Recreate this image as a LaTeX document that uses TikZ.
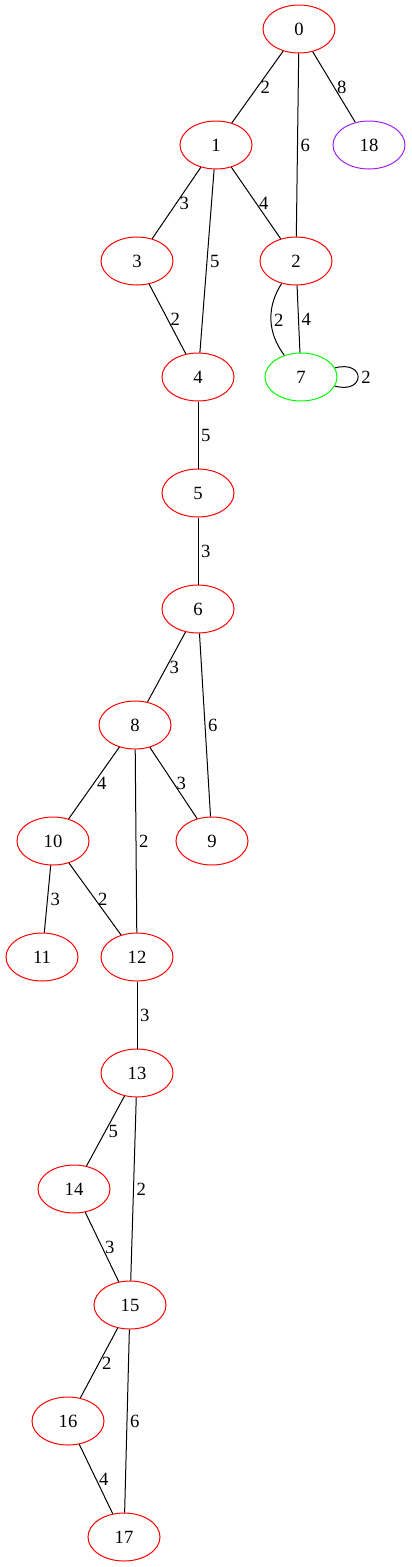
\documentclass[tikz,border=0pt]{standalone}
\usepackage{fontspec}
\setmainfont{Liberation Serif}
\usepackage{tikz}
\usetikzlibrary{shapes.geometric}
\usepackage{xcolor}
\definecolor{gvpurple}{RGB}{160,32,240}
\definecolor{gvgreen}{RGB}{0,255,0}

\begin{document}
\begin{tikzpicture}[x=0.75pt,y=-0.75pt,line width=0.75pt,
  vertex/.style={ellipse,draw=red,minimum width=54pt,minimum height=36pt,inner sep=0pt,font=\fontsize{14}{16}\selectfont},
  wt/.style={right,inner sep=2pt,font=\fontsize{14}{16}\selectfont}]
\useasboundingbox (0,0) rectangle (411,1567);

% Nodes (pixel positions, y grows downwards)
\node[vertex] (n0) at (299,29) {0};
\node[vertex] (n1) at (216,145) {1};
\node[vertex,draw=gvpurple] (n18) at (369,145) {18};
\node[vertex] (n3) at (137,261) {3};
\node[vertex] (n2) at (296,261) {2};
\node[vertex] (n4) at (198,377) {4};
\node[vertex,draw=gvgreen] (n7) at (301,377) {7};
\node[vertex] (n5) at (198,493) {5};
\node[vertex] (n6) at (198,609) {6};
\node[vertex] (n8) at (135,725) {8};
\node[vertex] (n10) at (53,841) {10};
\node[vertex] (n9) at (212,841) {9};
\node[vertex] (n11) at (42,957) {11};
\node[vertex] (n12) at (137,957) {12};
\node[vertex] (n13) at (137,1073) {13};
\node[vertex] (n14) at (74,1189) {14};
\node[vertex] (n15) at (130,1305) {15};
\node[vertex] (n16) at (68,1421) {16};
\node[vertex] (n17) at (124,1537) {17};

% Weighted edges
\foreach \a/\b/\w in {0/1/2, 0/2/6, 0/18/8, 1/3/3, 1/4/5, 1/2/4, 3/4/2, 2/7/4,
    4/5/5, 5/6/3, 6/8/3, 6/9/6, 8/10/4, 8/12/2, 8/9/3, 10/11/3, 10/12/2,
    12/13/3, 13/14/5, 13/15/2, 14/15/3, 15/16/2, 15/17/6, 16/17/4} {
    \draw (n\a) -- node[wt] {\w} (n\b);
}

% Second edge 2--7 and the loop on 7
\draw (n2) to[bend right=35] node[wt] {2} (n7);
\draw (n7) to[out=15,in=-15,distance=24pt] node[wt] {2} (n7);

\end{tikzpicture}
\end{document}
